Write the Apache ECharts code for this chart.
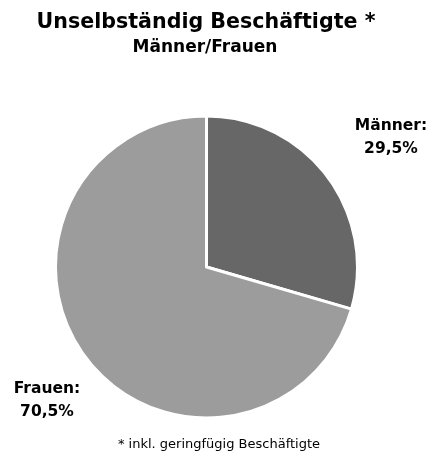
<!DOCTYPE html>
<html><head><meta charset="utf-8">
<script src="https://cdn.jsdelivr.net/npm/echarts@6/dist/echarts.min.js"></script>
<style>html,body{margin:0;padding:0;background:#fff}#c{width:430px;height:457px}</style>
</head><body><div id="c"></div>
<script>
var categories = ['Männer', 'Frauen'];
var values = [29.5, 70.5];
var colors = ['#676767', '#9c9c9c'];
var titleText = 'Unselbständig Beschäftigte *';
var subtitleText = 'Männer/Frauen';
var footnoteText = '* inkl. geringfügig Beschäftigte';

var FONT = '"DejaVu Sans", sans-serif';
var labelPos = [[391, 137], [47, 400]];

var chart = echarts.init(document.getElementById('c'), null, {renderer: 'canvas'});
chart.setOption({
  animation: false,
  graphic: [
    {type: 'text', x: 206, y: 23, style: {text: titleText, fontFamily: FONT, fontWeight: 'bold', fontSize: 20.6, fill: '#000', textAlign: 'center', textVerticalAlign: 'middle'}},
    {type: 'text', x: 205, y: 48, style: {text: subtitleText, fontFamily: FONT, fontWeight: 'bold', fontSize: 17, fill: '#000', textAlign: 'center', textVerticalAlign: 'middle'}},
    {type: 'text', x: 219, y: 445, style: {text: footnoteText, fontFamily: FONT, fontWeight: 'normal', fontSize: 13, fill: '#000', textAlign: 'center', textVerticalAlign: 'middle'}}
  ],
  series: [{
    type: 'pie',
    center: [206.5, 267],
    radius: [0, 151],
    startAngle: 90,
    clockwise: true,
    itemStyle: {borderColor: '#fff', borderWidth: 3},
    label: {
      show: true,
      position: 'outside',
      overflow: 'none',
      fontFamily: FONT, fontWeight: 'bold', fontSize: 15.5, color: '#000',
      lineHeight: 23, align: 'center',
      formatter: function (p) { return p.name + ':\n' + p.value.toFixed(1).replace('.', ',') + '%'; }
    },
    labelLine: {show: false},
    labelLayout: function (p) {
      var pos = labelPos[p.dataIndex];
      return {x: pos[0], y: pos[1], align: 'center', verticalAlign: 'middle', hideOverlap: false};
    },
    data: categories.map(function (c, i) {
      return {name: c, value: values[i], itemStyle: {color: colors[i]}};
    })
  }]
});
</script></body></html>
